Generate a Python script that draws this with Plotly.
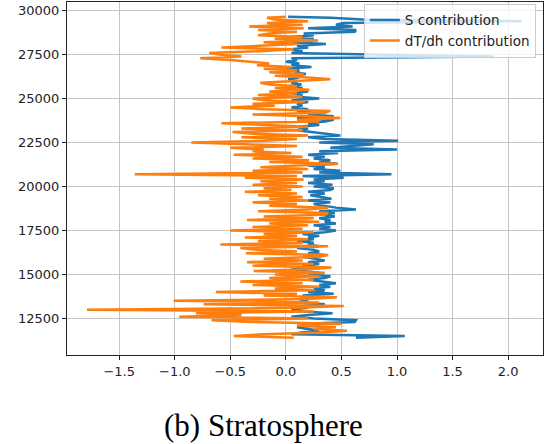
import plotly.graph_objects as go

altitude = [11400, 11500, 11600, 11700, 11800, 11900, 12000, 12100, 12200, 12300,
            12400, 12500, 12600, 12700, 12800, 12900, 13000, 13100, 13200, 13300,
            13400, 13500, 13600, 13700, 13800, 13900, 14000, 14100, 14200, 14300,
            14400, 14500, 14600, 14700, 14800, 14900, 15000, 15100, 15200, 15300,
            15400, 15500, 15600, 15700, 15800, 15900, 16000, 16100, 16200, 16300,
            16400, 16500, 16600, 16700, 16800, 16900, 17000, 17100, 17200, 17300,
            17400, 17500, 17600, 17700, 17800, 17900, 18000, 18100, 18200, 18300,
            18400, 18500, 18600, 18700, 18800, 18900, 19000, 19100, 19200, 19300,
            19400, 19500, 19600, 19700, 19800, 19900, 20000, 20100, 20200, 20300,
            20400, 20500, 20600, 20700, 20800, 20900, 21000, 21100, 21200, 21300,
            21400, 21500, 21600, 21700, 21800, 21900, 22000, 22100, 22200, 22300,
            22400, 22500, 22600, 22700, 22800, 22900, 23000, 23100, 23200, 23300,
            23400, 23500, 23600, 23700, 23800, 23900, 24000, 24100, 24200, 24300,
            24400, 24500, 24600, 24700, 24800, 24900, 25000, 25100, 25200, 25300,
            25400, 25500, 25600, 25700, 25800, 25900, 26000, 26100, 26200, 26300,
            26400, 26500, 26600, 26700, 26800, 26900, 27000, 27100, 27200, 27300,
            27400, 27500, 27600, 27700, 27800, 27900, 28000, 28100, 28200, 28300,
            28400, 28500, 28600, 28700, 28800, 28900, 29000, 29100, 29200, 29300,
            29400, 29500, 29600, 29650]

s_contribution = [0.63, 1.07, 0.05, 0.14, 0.30, 0.18, 0.10, 0.30, 0.15, 0.62,
                  0.63, 0.25, 0.05, 0.20, 0.42, 0.15, 0.05, 0.20, 0.15, 0.35,
                  0.10, 0.20, 0.12, 0.30, 0.15, 0.43, 0.20, 0.35, 0.25, 0.40,
                  0.30, 0.45, 0.30, 0.20, 0.35, 0.40, 0.20, 0.30, 0.15, 0.05,
                  0.25, 0.15, 0.30, 0.20, 0.35, 0.25, 0.15, 0.35, 0.20, 0.30,
                  0.25, 0.10, 0.30, 0.20, 0.25, 0.10, 0.25, 0.20, 0.30, 0.15,
                  0.35, 0.45, 0.30, 0.40, 0.25, 0.45, 0.35, 0.40, 0.30, 0.44,
                  0.35, 0.44, 0.30, 0.63, 0.45, 0.35, 0.25, 0.40, 0.20, 0.41,
                  0.30, 0.22, 0.35, 0.20, 0.40, 0.43, 0.25, 0.42, 0.20, 0.35,
                  0.25, 0.52, 0.15, 0.95, 0.30, 0.49, 0.25, 0.35, 0.20, 0.46,
                  0.30, 0.40, 0.25, 0.35, 0.20, 0.47, 0.30, 1.00, 0.40, 0.57,
                  0.79, 0.30, 1.01, 0.35, 0.20, 0.49, 0.35, 0.20, 0.10, 0.20,
                  0.10, 0.30, 0.20, 0.35, 0.43, 0.10, 0.43, 0.20, 0.25, 0.10,
                  0.20, 0.05, 0.15, 0.10, 0.20, 0.05, 0.30, 0.10, 0.15, 0.05,
                  0.20, 0.10, 0.15, 0.02, 0.14, 0.05, 0.10, 0.02, 0.12, 0.05,
                  0.18, 0.08, 0.12, 0.00, 0.23, 0.05, 0.12, 0.00, 0.10, 0.05,
                  1.87, 0.90, 0.05, 0.15, 0.05, 0.20, 0.10, 0.36, 0.05, 0.15,
                  0.25, 0.05, 0.25, 0.16, 0.62, 0.63, 0.20, 0.60, 0.45, 0.52,
                  2.12, 0.69, 0.40, 0.02]

dtdh_contribution = [0.07, -0.47, -0.20, 0.30, 0.55, 0.25, 0.45, 0.10, 0.50, -0.30,
                     -0.67, 0.20, -0.96, -0.40, -0.81, 0.25, -1.79, 0.10, 0.52, -0.74,
                     0.30, -1.01, 0.20, 0.46, -0.20, 0.10, -0.63, 0.25, -0.10, 0.30,
                     -0.30, 0.15, -0.41, 0.25, -0.15, 0.30, -0.10, 0.35, -0.29, 0.20,
                     0.41, -0.30, 0.25, -0.35, 0.15, -0.20, 0.30, 0.38, -0.36, 0.10,
                     -0.25, -0.41, 0.38, -0.59, 0.15, -0.25, 0.20, -0.37, 0.10, -0.20,
                     0.25, -0.50, 0.15, -0.30, 0.20, -0.15, 0.30, -0.35, 0.25, -0.20,
                     0.35, 0.38, -0.25, 0.20, 0.38, -0.15, 0.10, -0.30, 0.20, -0.15,
                     0.15, -0.25, 0.10, -0.37, 0.05, -0.20, 0.15, -0.30, 0.10, -0.23,
                     0.16, -0.37, 0.10, -1.36, 0.15, -0.30, 0.20, -0.23, 0.10, 0.47,
                     -0.15, 0.21, -0.30, 0.15, -0.47, 0.05, -0.30, -0.20, -0.50, 0.10,
                     -0.36, -0.85, -0.20, 0.10, -0.40, 0.20, -0.30, -0.48, 0.15, -0.40,
                     0.20, -0.25, -0.58, 0.30, 0.10, 0.49, 0.20, -0.30, 0.35, 0.40,
                     -0.20, -0.50, -0.10, -0.30, 0.17, -0.20, -0.30, 0.15, -0.25, 0.10,
                     -0.15, 0.21, -0.10, 0.10, -0.15, -0.23, 0.15, 0.40, 0.20, -0.10,
                     0.16, -0.15, 0.10, -0.20, 0.05, -0.26, -0.15, -0.30, -0.50, -0.77,
                     -0.40, -0.60, -0.69, -0.20, 0.07, -0.58, -0.15, 0.10, -0.20, 0.29,
                     -0.10, 0.15, -0.25, -0.15, 0.10, -0.25, 0.16, -0.33, 0.15, -0.17,
                     0.20, -0.10, -0.17, 0.00]

x_ticks = [-1.5, -1.0, -0.5, 0.0, 0.5, 1.0, 1.5, 2.0]
y_ticks = [12500, 15000, 17500, 20000, 22500, 25000, 27500, 30000]
caption = "(b) Stratosphere"

fig = go.Figure()
fig.add_trace(go.Scatter(x=s_contribution, y=altitude, mode="lines",
                         name="S contribution",
                         line=dict(color="#1f77b4", width=2.5)))
fig.add_trace(go.Scatter(x=dtdh_contribution, y=altitude, mode="lines",
                         name="dT/dh contribution",
                         line=dict(color="#ff7f0e", width=2.5)))

axis_common = dict(showgrid=True, gridcolor="#c4c4c4", gridwidth=1.2,
                   showline=True, linecolor="#222", linewidth=1, mirror=True,
                   ticks="outside", ticklen=4, tickcolor="#222", zeroline=False,
                   automargin=False,
                   tickfont=dict(family="DejaVu Sans", size=13, color="#222"))

fig.update_xaxes(range=[-1.970, 2.314], tickvals=x_ticks, tickformat=".1f", **axis_common)
fig.update_yaxes(range=[10420, 30493], tickvals=y_ticks, tickformat="d", **axis_common)

fig.update_layout(
    width=547, height=444,
    margin=dict(l=67, r=4, t=2, b=89, autoexpand=False),
    plot_bgcolor="white", paper_bgcolor="white",
    font=dict(family="DejaVu Sans", size=13, color="#222"),
    legend=dict(x=0.985, y=0.995, xanchor="right", yanchor="top",
                bgcolor="rgba(255,255,255,0.8)", bordercolor="#cccccc", borderwidth=1,
                font=dict(family="DejaVu Sans", size=13.5, color="#222"),
                itemwidth=30, tracegroupgap=0),
    showlegend=True,
    annotations=[dict(text=caption, xref="paper", yref="paper", x=0.413, y=-0.20,
                      xanchor="center", yanchor="middle", showarrow=False,
                      font=dict(family="Liberation Serif", size=31, color="black"))],
)

fig.write_html("out.html", config={"displayModeBar": False},
               post_script="document.body.style.margin='0';document.body.style.overflow='hidden';")
